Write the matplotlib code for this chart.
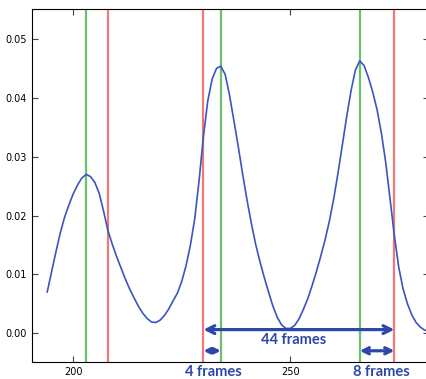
import numpy as np
import matplotlib.pyplot as plt

# per-frame signal
frames = np.arange(194, 283)
signal = [
    0.0070, 0.0104, 0.0138, 0.0170, 0.0197, 0.0218, 0.0237, 0.0252, 0.0264, 0.0270,
    0.0266, 0.0256, 0.0237, 0.0207, 0.0174, 0.0151, 0.0130, 0.0111, 0.0092, 0.0075,
    0.0060, 0.0046, 0.0034, 0.0025, 0.0019, 0.0018, 0.0022, 0.0030, 0.0041, 0.0055,
    0.0068, 0.0088, 0.0115, 0.0150, 0.0195, 0.0260, 0.0335, 0.0395, 0.0432, 0.0450,
    0.0454, 0.0440, 0.0405, 0.0362, 0.0318, 0.0272, 0.0228, 0.0188, 0.0152, 0.0122,
    0.0095, 0.0070, 0.0046, 0.0027, 0.0014, 0.0008, 0.0008, 0.0013, 0.0024, 0.0040,
    0.0058, 0.0080, 0.0104, 0.0130, 0.0158, 0.0190, 0.0228, 0.0272, 0.0320, 0.0368,
    0.0412, 0.0447, 0.0463, 0.0455, 0.0435, 0.0410, 0.0380, 0.0340, 0.0290, 0.0228,
    0.0165, 0.0112, 0.0075, 0.0050, 0.0031, 0.0018, 0.0010, 0.0005, 0.0004,
]

peaks = [203, 234, 266]      # green lines
bounds = [208, 230, 274]     # red lines

# (start, end, y, label, label_x, label_y, head size)
spans = [
    (230, 274, 0.0006, "44 frames", 250.8, -0.0012, 14),
    (230, 234, -0.0030, "4 frames", 232.3, -0.0066, 8),
    (266, 274, -0.0030, "8 frames", 271, -0.0066, 11),
]

fig = plt.figure(figsize=(4.27, 3.79), dpi=100)
ax = fig.add_axes([0.075, 0.045, 0.93, 0.931])

for x in peaks:
    ax.axvline(x, color="#6cbf6c", lw=1.6)
for x in bounds:
    ax.axvline(x, color="#f07878", lw=1.6)

ax.plot(frames, signal, color="#3a55c0", lw=1.2, solid_joinstyle="round")

arrow_col = "#2b48a8"
for x0, x1, y, label, lx, ly, head in spans:
    ax.annotate("", xy=(x0, y), xytext=(x1, y),
                arrowprops=dict(arrowstyle="<->", color=arrow_col, lw=2.3,
                                mutation_scale=head, shrinkA=0, shrinkB=0))
    ax.text(lx, ly, label, color=arrow_col, fontsize=10.5, fontweight="bold",
            family="Lato", ha="center", va="center", clip_on=False)

ax.set_xlim(190.5, 282)
ax.set_ylim(-0.0049, 0.0551)
ax.set_xticks([200, 250])
ax.set_yticks([0.00, 0.01, 0.02, 0.03, 0.04, 0.05])
ax.set_yticklabels(["0.00", "0.01", "0.02", "0.03", "0.04", "0.05"])
ax.tick_params(direction="in", length=4, labelsize=7, top=True, right=True,
               color="#444444")

plt.savefig("out.png", dpi=100)
